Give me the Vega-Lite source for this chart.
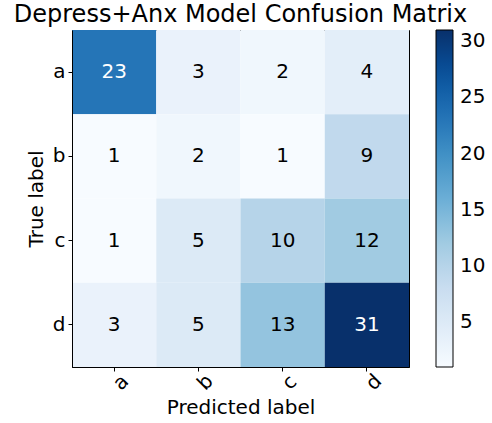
{
  "$schema": "https://vega.github.io/schema/vega-lite/v6.json",
  "autosize": {"type": "none"},
  "padding": {"left": 72, "top": 30, "right": 83, "bottom": 57},
  "width": 337,
  "height": 337,
  "title": {"text": "Depress+Anx Model Confusion Matrix", "fontSize": 24, "fontWeight": "normal", "color": "black", "offset": 3, "anchor": "middle"},
  "config": {
    "font": "DejaVu Sans",
    "view": {"stroke": "black", "strokeWidth": 1},
    "axis": {"labelFontSize": 20, "titleFontSize": 20, "titleFontWeight": "normal", "labelColor": "black", "titleColor": "black", "tickColor": "black", "domainColor": "black", "tickSize": 4, "grid": false}
  },
  "data": {"values": [
    {"true": "a", "pred": "a", "count": 23},
    {"true": "a", "pred": "b", "count": 3},
    {"true": "a", "pred": "c", "count": 2},
    {"true": "a", "pred": "d", "count": 4},
    {"true": "b", "pred": "a", "count": 1},
    {"true": "b", "pred": "b", "count": 2},
    {"true": "b", "pred": "c", "count": 1},
    {"true": "b", "pred": "d", "count": 9},
    {"true": "c", "pred": "a", "count": 1},
    {"true": "c", "pred": "b", "count": 5},
    {"true": "c", "pred": "c", "count": 10},
    {"true": "c", "pred": "d", "count": 12},
    {"true": "d", "pred": "a", "count": 3},
    {"true": "d", "pred": "b", "count": 5},
    {"true": "d", "pred": "c", "count": 13},
    {"true": "d", "pred": "d", "count": 31}
  ]},
  "encoding": {
    "x": {"field": "pred", "type": "nominal", "sort": ["a", "b", "c", "d"], "scale": {"paddingInner": 0, "paddingOuter": 0},
      "axis": {"title": "Predicted label", "labelAngle": -45, "labelAlign": "center", "labelBaseline": "top", "labelPadding": 4, "titlePadding": 4}},
    "y": {"field": "true", "type": "nominal", "sort": ["a", "b", "c", "d"], "scale": {"paddingInner": 0, "paddingOuter": 0},
      "axis": {"title": "True label", "labelAngle": 0, "labelPadding": 3, "titlePadding": 6}}
  },
  "layer": [
    {
      "mark": {"type": "rect"},
      "encoding": {
        "color": {"field": "count", "type": "quantitative",
          "scale": {"domain": [1, 31], "range": ["#f7fbff", "#deebf7", "#c6dbef", "#9ecae1", "#6baed6", "#4292c6", "#2171b5", "#08519c", "#08306b"], "interpolate": "rgb"},
          "legend": {"title": null, "orient": "none", "legendX": 364, "legendY": 0, "padding": 0, "gradientLength": 337, "gradientThickness": 17, "gradientStrokeColor": "black", "gradientStrokeWidth": 1, "values": [5, 10, 15, 20, 25, 30], "labelFontSize": 20, "labelColor": "black", "labelOffset": 7, "labelOverlap": false}}
      }
    },
    {
      "mark": {"type": "text", "fontSize": 20},
      "encoding": {
        "text": {"field": "count", "type": "quantitative"},
        "color": {"condition": {"test": "datum.count > 15.5", "value": "white"}, "value": "black"}
      }
    }
  ]
}
